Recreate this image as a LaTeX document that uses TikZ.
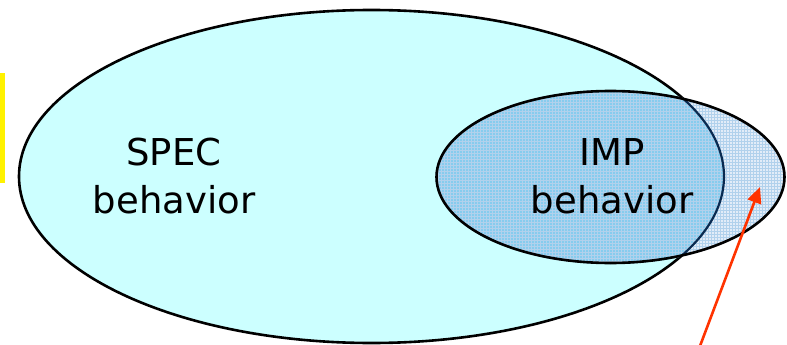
\documentclass[tikz,border=0pt]{standalone}
\usepackage{fontspec}
\setmainfont{DejaVu Sans}
\usetikzlibrary{patterns,arrows.meta}
\definecolor{speccyan}{HTML}{CCFFFF}
\definecolor{outerblue}{HTML}{E2ECF8}
\definecolor{overblue}{HTML}{86CCEE}
\definecolor{gridblue}{HTML}{3C8CD0}
\definecolor{navyline}{HTML}{0A2A50}
\definecolor{arrowred}{HTML}{FF3300}
\tikzset{
  lbl/.style={anchor=base, inner sep=0pt, font=\fontsize{37}{44}\selectfont},
  outline/.style={draw=black, line width=2.6pt},
  pointer/.style={draw=arrowred, line width=2.6pt, -{Triangle[length=16pt,width=14pt]}}
}
\begin{document}
\begin{tikzpicture}[x=1pt,y=-1pt]
\useasboundingbox (0,0) rectangle (787,345);
% yellow bar
\fill[yellow] (0,73) rectangle (5,183);
% SPEC ellipse
\fill[speccyan] (371.5,176.5) ellipse [x radius=352.5, y radius=166.5];
\draw[outline] (371.5,176.5) ellipse [x radius=352.5, y radius=166.5];
% IMP ellipse
\begin{scope}
  \clip (610.5,177) ellipse [x radius=175, y radius=87];
  \fill[outerblue] (610.5,177) ellipse [x radius=175, y radius=87];
  \fill[overblue] (371.5,176.5) ellipse [x radius=352.5, y radius=166.5];
  \fill[pattern=grid, pattern color=gridblue!40] (610.5,177) ellipse [x radius=175, y radius=87];
  \draw[navyline, line width=2.2pt] (371.5,176.5) ellipse [x radius=352.5, y radius=166.5];
\end{scope}
\draw[outline] (610.5,177) ellipse [x radius=174, y radius=86];
% labels
\node[lbl] (spec1) at (174,165) {SPEC};
\node[lbl] (spec2) at (174,213) {behavior};
\node[lbl] (imp1) at (612,165) {IMP};
\node[lbl] (imp2) at (612,213) {behavior};
% arrow
\coordinate (tail) at (700,346);
\coordinate (tip) at (760,187);
\draw[pointer] (tail) -- (tip);
\end{tikzpicture}
\end{document}
